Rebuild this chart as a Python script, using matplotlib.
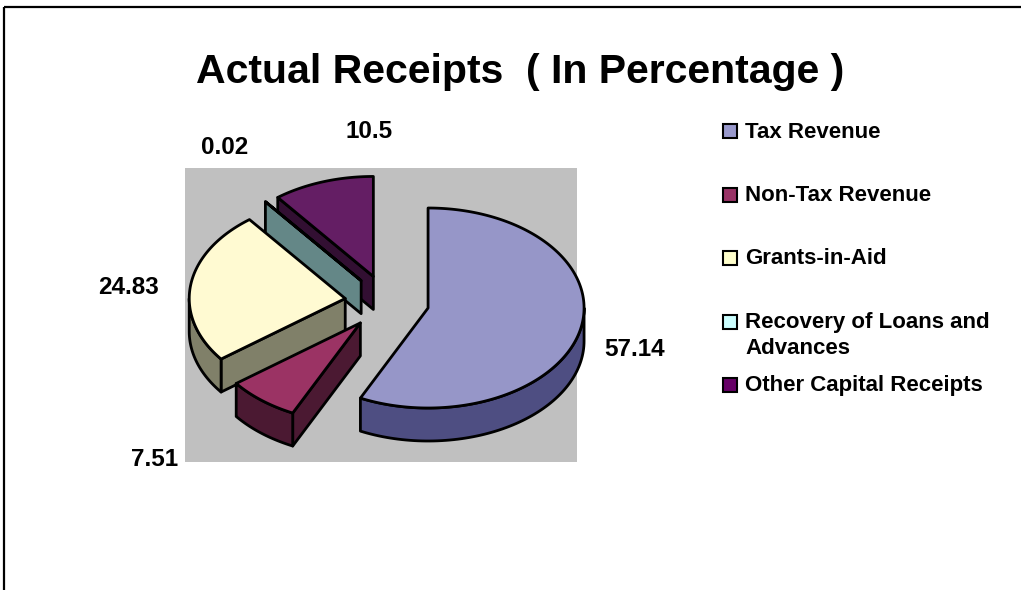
import numpy as np
import matplotlib
matplotlib.use('Agg')
import matplotlib.pyplot as plt
from matplotlib.patches import Polygon, Rectangle

plt.rcParams['font.family'] = ['Liberation Sans', 'DejaVu Sans']
plt.rcParams['font.weight'] = 'bold'

# receipts by head, in percent
heads = ['Tax Revenue', 'Non-Tax Revenue', 'Grants-in-Aid',
         'Recovery of Loans and\nAdvances', 'Other Capital Receipts']
shares = [57.14, 7.51, 24.83, 0.02, 10.5]
value_text = ['57.14', '7.51', '24.83', '0.02', '10.5']

top_colors = ['#9696C8', '#9B3364', '#FFFAD2', '#AFCFCF', '#641E64']
side_colors = ['#4E4E82', '#4B1932', '#808069', '#648787', '#320F32']
legend_colors = ['#9999CC', '#993366', '#FFFFCC', '#CCFFFF', '#660066']

# pie layout, in pixels (y grows downward)
cx, cy = 387, 302
rx, ry = 156, 100
depth = 33
explode = 0.27
label_xy = [(635, 349), (155, 460), (128, 288), (225, 148), (369, 132)]
edge_lw = 2.0

fig = plt.figure(figsize=(10.21, 5.90), dpi=100)
ax = fig.add_axes([0, 0, 1, 1])
ax.set_xlim(0, 1021)
ax.set_ylim(590, 0)
ax.axis('off')

# frame lines (top and left only)
ax.plot([4, 1021], [7, 7], color='black', lw=1.6, solid_capstyle='butt')
ax.plot([4, 4], [7, 590], color='black', lw=1.6, solid_capstyle='butt')

# gray plot area
ax.add_patch(Rectangle((185, 168), 392, 294, facecolor='#C0C0C0', edgecolor='none', zorder=1))


def pt(vx, vy, t, dz=0):
    return vx + rx * np.cos(np.radians(t)), vy - ry * np.sin(np.radians(t)) + dz


cum = np.concatenate([[0], np.cumsum(shares)])
total = cum[-1]
slices = []
for i, v in enumerate(shares):
    t1 = 90 - cum[i] / total * 360
    t2 = 90 - cum[i + 1] / total * 360
    mid = np.radians((t1 + t2) / 2)
    vx = cx + explode * rx * np.cos(mid)
    vy = cy - explode * ry * np.sin(mid)
    slices.append((i, t1, t2, vx, vy))


def wall(vx, vy, t, color, z):
    ox, oy = pt(vx, vy, t)
    ax.add_patch(Polygon([(vx, vy), (ox, oy), (ox, oy + depth), (vx, vy + depth)],
                         closed=True, facecolor=color, edgecolor='black', lw=edge_lw,
                         joinstyle='round', zorder=z))


# back slices first
order = [4, 3, 2, 1, 0]
z = 2
for i in order:
    _, t1, t2, vx, vy = slices[i]
    sc = side_colors[i]
    # radial walls that face the viewer
    if np.cos(np.radians(t1)) < -1e-9:
        wall(vx, vy, t1, sc, z)
        z += 1
    if np.cos(np.radians(t2)) > 1e-9:
        wall(vx, vy, t2, sc, z)
        z += 1
    # outer wall on the front half of the rim
    a = min(t1, 0)
    b = max(t2, -180)
    if a > b:
        ts = np.linspace(a, b, 80)
        upper = [pt(vx, vy, t) for t in ts]
        lower = [pt(vx, vy, t, depth) for t in ts[::-1]]
        ax.add_patch(Polygon(upper + lower, closed=True, facecolor=sc,
                             edgecolor='black', lw=edge_lw, joinstyle='round', zorder=z))
        z += 1
    # top face
    ts = np.linspace(t1, t2, max(int(abs(t1 - t2)) + 2, 3))
    ax.add_patch(Polygon([(vx, vy)] + [pt(vx, vy, t) for t in ts], closed=True,
                         facecolor=top_colors[i], edgecolor='black', lw=edge_lw,
                         joinstyle='round', zorder=z))
    z += 1

# value labels
for (lx, ly), s in zip(label_xy, value_text):
    ax.text(lx, ly, s, ha='center', va='center', fontsize=17.5, fontweight='bold', zorder=50)

# title
ax.text(520, 83, 'Actual Receipts  ( In Percentage )', ha='center', va='baseline',
        fontsize=29.5, fontweight='bold')

# legend
for i, name in enumerate(heads):
    y = 131 + i * 63.5
    ax.add_patch(Rectangle((723, y - 7), 14, 14, facecolor=legend_colors[i],
                           edgecolor='black', lw=1.5, zorder=5))
    for j, line in enumerate(name.split('\n')):
        ax.text(745, y + 6.5 + j * 26, line, ha='left', va='baseline', fontsize=16,
                fontweight='bold')

fig.savefig('out.png', dpi=100)
